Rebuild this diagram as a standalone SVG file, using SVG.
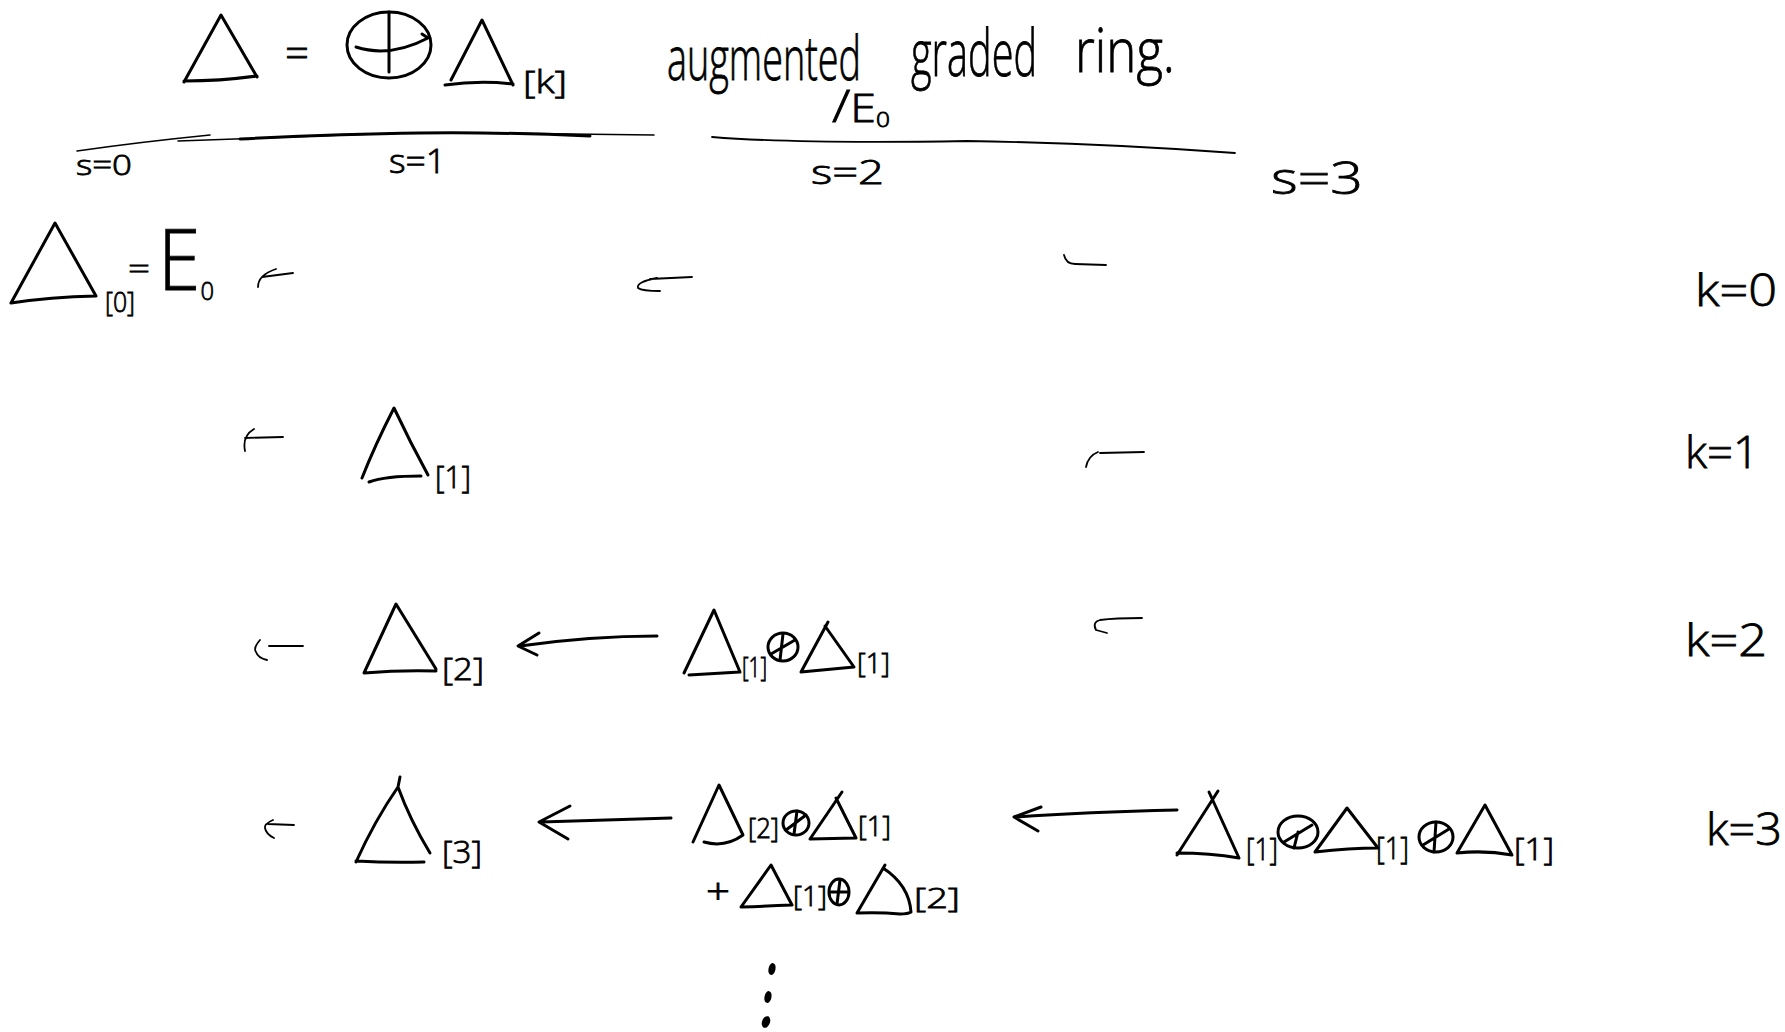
<svg xmlns="http://www.w3.org/2000/svg" width="1785" height="1032" viewBox="0 0 1785 1032">
<style>
text{font-family:"Open Sans","Liberation Sans",sans-serif;font-weight:300;fill:#000;stroke:#000;stroke-width:.8}
.sub{font-size:32px}
.ss{font-size:28px}
.hw{font-size:60px}
.lab{font-size:33px}
.k{font-size:44px}
path,ellipse{fill:none;stroke:#000;stroke-linecap:round;stroke-linejoin:round}
.t{stroke-width:3}
.a{stroke-width:3}
.r{stroke-width:1.6}
.h{stroke-width:1.8}
.d{fill:#000;stroke:none}
</style>
<rect width="1785" height="1032" fill="#fff"/>
<g id="connectors">
<path class="r" d="M77 151Q140 142 210 135"/>
<path class="r" d="M178 141Q260 138 344 135Q420 132 488 133Q580 134 654 135"/>
<path class="a" d="M240 139Q340 134 420 133Q500 132 590 136"/>
<path class="h" d="M712 137Q800 144 967 141Q1100 143 1235 153"/>
<path class="h" d="M293 273L262 277M276 269Q258 275 258 287"/>
<path class="h" d="M692 277L650 279M657 278Q636 282 638 288Q642 291 660 291"/>
<path class="h" d="M1064 255Q1066 264 1075 264L1106 265"/>
<path class="h" d="M283 437L245 438M254 429Q242 436 245 451"/>
<path class="h" d="M1144 452L1100 453M1098 452Q1088 456 1086 467"/>
<path class="h" d="M269 646L303 646M260 640Q253 648 256 652Q258 658 267 660"/>
<path class="h" d="M1142 618Q1115 618 1100 620Q1092 622 1096 630L1107 633"/>
<path class="h" d="M294 825L268 824M273 820Q264 824 265 828Q266 834 274 838"/>
<path class="a" d="M657 636Q590 636 520 646M539 633L518 646L537 655"/>
<path class="a" d="M671 818L541 822M570 806L539 822L568 839"/>
<path class="a" d="M1177 810Q1086 812 1016 817M1041 807L1014 817L1038 831"/>
</g>
<g id="title">
<path id="delta" class="t" d="M184 82L221 15L257 77M184 81Q220 81 257 76"/>
<text x="285" y="68" font-size="42" textLength="24" lengthAdjust="spacingAndGlyphs">=</text>
<ellipse class="t" cx="389" cy="45" rx="42" ry="33"/>
<path class="t" d="M389 12V72M356 47Q390 58 428 38L422 34"/>
<path class="t" d="M451 80L482 20L513 85M445 85Q480 80 513 84"/>
<text class="sub" x="523" y="93" textLength="44" lengthAdjust="spacingAndGlyphs">[k]</text>
<text class="hw" x="667" y="80" textLength="194" lengthAdjust="spacingAndGlyphs">augmented</text>
<text x="911" y="76" font-size="64" textLength="126" lengthAdjust="spacingAndGlyphs">graded</text>
<text class="hw" x="1075" y="72" textLength="100" lengthAdjust="spacingAndGlyphs">ring.</text>
<text x="832" y="122" font-size="44" textLength="58" lengthAdjust="spacingAndGlyphs">/<tspan font-size="38">E</tspan><tspan font-size="20" dy="5">0</tspan></text>
</g>
<g id="columns">
<text x="76" y="175" font-size="28" textLength="56" lengthAdjust="spacingAndGlyphs">s=0</text>
<text class="lab" x="389" y="173" textLength="57" lengthAdjust="spacingAndGlyphs">s=1</text>
<text class="lab" x="811" y="184" textLength="73" lengthAdjust="spacingAndGlyphs">s=2</text>
<text x="1271" y="194" font-size="44" textLength="92" lengthAdjust="spacingAndGlyphs">s=3</text>
</g>
<g id="rows">
<text class="k" x="1695" y="306" textLength="82" lengthAdjust="spacingAndGlyphs">k=0</text>
<text class="k" x="1685" y="468" textLength="74" lengthAdjust="spacingAndGlyphs">k=1</text>
<text class="k" x="1685" y="656" textLength="82" lengthAdjust="spacingAndGlyphs">k=2</text>
<text class="k" x="1706" y="845" textLength="76" lengthAdjust="spacingAndGlyphs">k=3</text>
</g>
<g id="node-k0-s0">
<path class="t" d="M11 303L55 223L96 296M11 303Q50 297 96 296"/>
<text class="ss" x="105" y="312" textLength="30" lengthAdjust="spacingAndGlyphs">[0]</text>
<text x="128" y="279" font-size="28" textLength="22" lengthAdjust="spacingAndGlyphs">=</text>
<text x="158" y="290" font-size="84" textLength="56" lengthAdjust="spacingAndGlyphs">E<tspan font-size="26" dy="10">0</tspan></text>
</g>
<g id="node-k1-s1">
<path class="t" d="M362 478Q375 445 394 408Q410 442 428 475M369 482Q385 476 421 476"/>
<text class="sub" x="435" y="488" textLength="36" lengthAdjust="spacingAndGlyphs">[1]</text>
</g>
<g id="node-k2-s1">
<path class="t" d="M364 673L396 604L436 669M364 673Q400 670 436 671"/>
<text class="sub" x="442" y="680" textLength="42" lengthAdjust="spacingAndGlyphs">[2]</text>
</g>
<g id="node-k2-s2">
<path class="t" d="M684 673L714 610L740 672M689 675L740 672"/>
<text class="ss" x="742" y="677" textLength="25" lengthAdjust="spacingAndGlyphs">[1]</text>
<ellipse class="t" cx="783" cy="647" rx="15" ry="14"/>
<path class="t" d="M771 654L795 640M783 634L780 660"/>
<path class="t" d="M828 622L801 672L854 667L825 626"/>
<text class="ss" x="857" y="673" textLength="33" lengthAdjust="spacingAndGlyphs">[1]</text>
</g>
<g id="node-k3-s1">
<path class="t" d="M356 862Q375 820 398 787L400 777M398 787Q410 820 430 853M356 861Q390 863 424 862"/>
<text class="sub" x="442" y="863" textLength="40" lengthAdjust="spacingAndGlyphs">[3]</text>
</g>
<g id="node-k3-s2-a">
<path class="t" d="M693 842L719 785L743 835Q725 848 704 842"/>
<text class="ss" x="748" y="838" textLength="31" lengthAdjust="spacingAndGlyphs">[2]</text>
<ellipse class="t" cx="796" cy="823" rx="13" ry="12"/>
<path class="t" d="M786 830L806 815M797 811L794 834"/>
<path class="t" d="M842 792L810 839L856 838L836 798"/>
<text class="ss" x="858" y="836" textLength="33" lengthAdjust="spacingAndGlyphs">[1]</text>
</g>
<g id="node-k3-s2-b">
<text x="706" y="904" font-size="34" textLength="24" lengthAdjust="spacingAndGlyphs">+</text>
<path class="t" d="M741 907L771 865L792 905M741 907Q770 906 792 905"/>
<text class="ss" x="793" y="906" textLength="34" lengthAdjust="spacingAndGlyphs">[1]</text>
<ellipse class="t" cx="839" cy="892" rx="10" ry="13"/>
<path class="t" d="M831 892H847M840 880L837 904"/>
<path class="t" d="M885 865L857 913Q880 912 900 914Q908 914 911 912Q909 885 883 868"/>
<text class="ss" x="914" y="908" textLength="46" lengthAdjust="spacingAndGlyphs">[2]</text>
</g>
<g id="node-k3-s3">
<path class="t" d="M1218 791L1177 855M1209 792L1239 858M1177 853Q1210 853 1239 858"/>
<text class="sub" x="1246" y="860" textLength="32" lengthAdjust="spacingAndGlyphs">[1]</text>
<ellipse class="t" cx="1298" cy="832" rx="20" ry="16"/>
<path class="t" d="M1312 825L1284 842M1298 832L1294 848"/>
<path class="t" d="M1315 852L1347 808L1378 848M1315 852Q1350 848 1378 848"/>
<text class="sub" x="1376" y="859" textLength="33" lengthAdjust="spacingAndGlyphs">[1]</text>
<ellipse class="t" cx="1436" cy="837" rx="17" ry="15"/>
<path class="t" d="M1423 845L1449 829M1436 822L1434 852"/>
<path class="t" d="M1457 853L1485 805L1512 855M1457 853Q1485 850 1512 855"/>
<text class="sub" x="1514" y="860" textLength="40" lengthAdjust="spacingAndGlyphs">[1]</text>
</g>
<g id="dots">
<ellipse class="d" cx="772" cy="969" rx="3.5" ry="6" transform="rotate(12 772 969)"/>
<ellipse class="d" cx="768" cy="997" rx="3.5" ry="6" transform="rotate(12 768 997)"/>
<ellipse class="d" cx="766" cy="1022" rx="4" ry="6" transform="rotate(20 766 1022)"/>
</g>
</svg>
